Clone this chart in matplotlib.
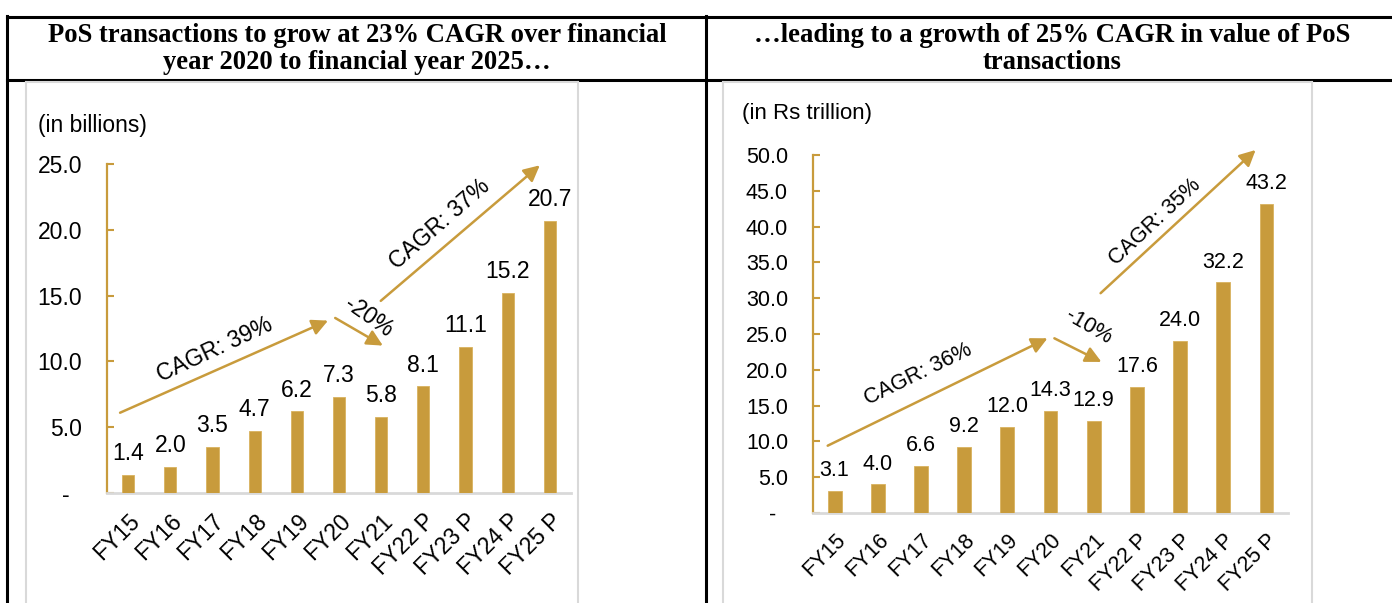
import matplotlib
matplotlib.use('Agg')
import matplotlib.pyplot as plt
from matplotlib.lines import Line2D

# data
cats = ['FY15', 'FY16', 'FY17', 'FY18', 'FY19', 'FY20', 'FY21', 'FY22 P', 'FY23 P', 'FY24 P', 'FY25 P']
pos_volume = [1.4, 2.0, 3.5, 4.7, 6.2, 7.3, 5.8, 8.1, 11.1, 15.2, 20.7]       # billions
pos_value = [3.1, 4.0, 6.6, 9.2, 12.0, 14.3, 12.9, 17.6, 24.0, 32.2, 43.2]    # Rs trillion
title_left = 'PoS transactions to grow at 23% CAGR over financial\nyear 2020 to financial year 2025…'
title_right = '…leading to a growth of 25% CAGR in value of PoS\ntransactions'
cagr_left = ['CAGR: 39%', '-20%', 'CAGR: 37%']
cagr_right = ['CAGR: 36%', '-10%', 'CAGR: 35%']

GOLD = '#C89B3C'
GREY = '#D9D9D9'
SANS = 'Liberation Sans'
W, H = 1392, 603
plt.rcParams['font.family'] = SANS

fig = plt.figure(figsize=(W/100, H/100), dpi=100)

def fx(px): return px / W
def fy(py): return 1 - py / H

# table frame (header row + two columns)
for (x0, y0, x1, y1) in [(7, 16.5, W, 16.5), (7, 80, W, 80), (7, 16, 7, H), (706, 16, 706, H)]:
    fig.add_artist(Line2D([fx(x0), fx(x1)], [fy(y0), fy(y1)], color='black', lw=2.2))
# light grey picture frames
for (x0, x1) in [(26, 578), (723, 1312)]:
    for xx in (x0, x1):
        fig.add_artist(Line2D([fx(xx), fx(xx)], [fy(82), fy(H)], color=GREY, lw=1.5))
    fig.add_artist(Line2D([fx(x0), fx(x1)], [fy(82), fy(82)], color=GREY, lw=1.5))

fig.text(fx(357), fy(49), title_left, ha='center', va='center', family='Liberation Serif',
         fontweight='bold', fontsize=19.2, linespacing=1.1)
fig.text(fx(1052), fy(49), title_right, ha='center', va='center', family='Liberation Serif',
         fontweight='bold', fontsize=19.2, linespacing=1.1)

fig.text(fx(38), fy(126), '(in billions)', ha='left', va='center', fontsize=16.5)
fig.text(fx(742), fy(113), '(in Rs trillion)', ha='left', va='center', fontsize=16)


def draw(ax, vals, ymax, step, bw, fs, arrows, labels):
    x = range(len(cats))
    ax.bar(x, vals, width=bw, color=GOLD, edgecolor='#D9B25E', linewidth=0.6, zorder=3)
    for i, v in enumerate(vals):
        ax.annotate(f'{v:.1f}', (i, v), xytext=(0, 7), textcoords='offset points',
                    ha='center', va='bottom', fontsize=fs)
    ax.set_xlim(-0.5, len(cats) - 0.5)
    ax.set_ylim(0, ymax)
    ticks = [k * step for k in range(int(ymax / step) + 1)]
    ax.set_yticks(ticks)
    ax.set_yticklabels(['-  ' if t == 0 else f'{t:.1f}' for t in ticks])
    ax.tick_params(axis='y', direction='in', length=5, width=1.5, color=GOLD, pad=18, labelsize=fs)
    ax.set_xticks(list(x))
    ax.set_xticklabels(cats, rotation=45, ha='right', rotation_mode='anchor', fontsize=fs)
    ax.tick_params(axis='x', length=0, pad=12)
    for s in ('top', 'right'):
        ax.spines[s].set_visible(False)
    ax.spines['left'].set_color(GOLD)
    ax.spines['left'].set_linewidth(1.6)
    ax.spines['bottom'].set_color(GREY)
    ax.spines['bottom'].set_linewidth(2)
    for (start, end) in arrows:
        ax.annotate('', xy=end, xytext=start, annotation_clip=False,
                    arrowprops=dict(arrowstyle='-|>', color=GOLD, lw=1.8, mutation_scale=24,
                                    shrinkA=0, shrinkB=0))
    for (txt, (tx, ty, rot)) in labels:
        ax.text(tx, ty, txt, ha='center', va='center', rotation=rot, fontsize=fs,
                rotation_mode='anchor', clip_on=False)


axL = fig.add_axes([fx(107), fy(493), fx(571) - fx(107), fy(164) - fy(493)])
draw(axL, pos_volume, 25, 5, 0.29, 16.5,
     [((-0.19, 6.1), (4.74, 13.1)), ((4.91, 13.3), (6.04, 11.2)), ((5.99, 14.6), (9.76, 24.9))],
     list(zip(cagr_left, [(2.06, 10.9, 25), (5.7, 13.4, -35), (7.4, 20.4, 41)])))

axR = fig.add_axes([fx(813), fy(513), fx(1288) - fx(813), fy(155) - fy(513)])
draw(axR, pos_value, 50, 5, 0.32, 15.5,
     [((-0.16, 9.4), (4.93, 24.4)), ((5.09, 24.4), (6.18, 21.1)), ((6.16, 30.7), (9.75, 50.7))],
     list(zip(cagr_right, [(1.94, 19.3, 26), (5.88, 26.0, -30), (7.43, 40.6, 43)])))

fig.savefig('out.png', dpi=100)
